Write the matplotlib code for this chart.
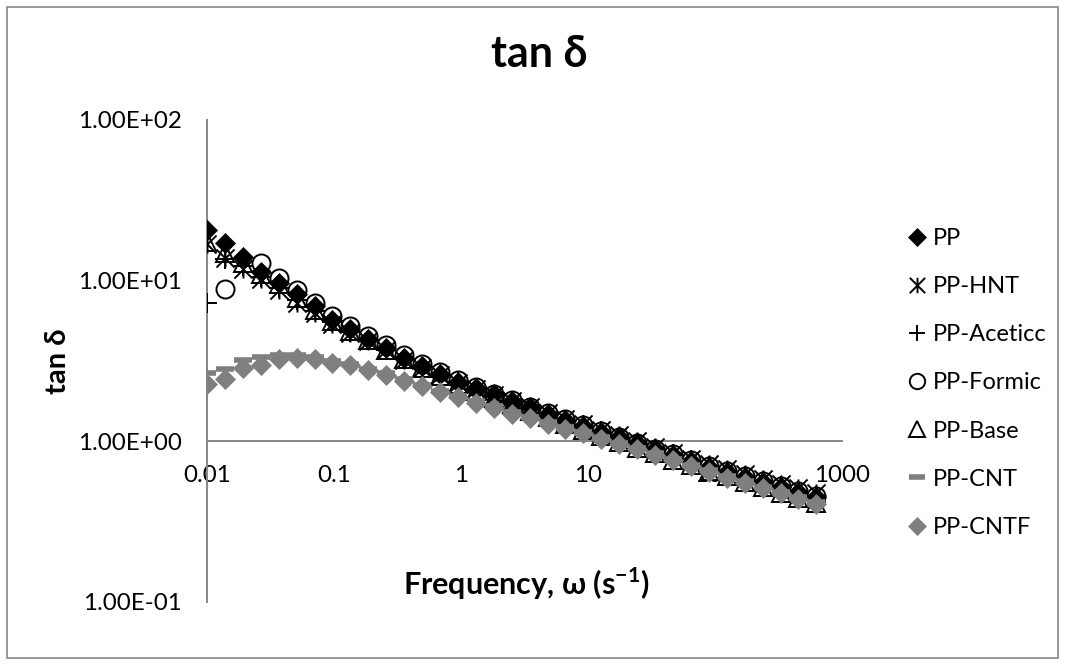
import matplotlib
matplotlib.use("Agg")
import matplotlib.pyplot as plt
from matplotlib.path import Path
from matplotlib.patches import Rectangle
from matplotlib.ticker import FixedLocator, FixedFormatter, NullLocator

plt.rcParams['font.family'] = ['Lato', 'DejaVu Sans']
plt.rcParams['mathtext.fontset'] = 'custom'
plt.rcParams['mathtext.rm'] = 'Lato'
plt.rcParams['mathtext.bf'] = 'Lato:bold'

nan = float('nan')

# ---- data ----
freq = [0.01, 0.01384, 0.01915, 0.02651, 0.03668, 0.05077, 0.07026, 0.09723,
        0.1346, 0.1863, 0.2578, 0.3567, 0.4937, 0.6832, 0.9455, 1.309, 1.811,
        2.506, 3.469, 4.800, 6.643, 9.194, 12.72, 17.61, 24.37, 33.73, 46.68,
        64.60, 89.41, 123.7, 171.3, 237.0, 328.0, 453.9, 628.3]

pp = [20.7, 17.2, 14.1, 11.4, 9.7, 8.3, 7.0, 5.7, 4.98, 4.35, 3.8, 3.3, 2.95,
      2.63, 2.35, 2.15, 1.96, 1.79, 1.63, 1.48, 1.35, 1.25, 1.15, 1.06, 0.97,
      0.89, 0.82, 0.75, 0.69, 0.64, 0.6, 0.56, 0.52, 0.485, 0.45]
pp_hnt = [17.0, 13.9, 11.9, 10.3, 8.7, 7.3, 6.3, 5.4, 4.75, 4.2, 3.7, 3.22,
          2.88, 2.58, 2.32, 2.13, 1.95, 1.79, 1.64, 1.5, 1.38, 1.28, 1.18,
          1.09, 1.0, 0.92, 0.85, 0.78, 0.72, 0.67, 0.63, 0.585, 0.545, 0.51,
          0.475]
pp_acetic = [7.3, 13.6, 12.3, 10.6, 9.0, 7.6, 6.5, 5.5, 4.8, 4.25, 3.72, 3.25,
             2.9, 2.6, 2.33, 2.12, 1.94, 1.77, 1.62, 1.48, 1.36, 1.26, 1.16,
             1.07, 0.98, 0.9, 0.83, 0.76, 0.7, 0.65, 0.61, 0.565, 0.525, 0.49,
             0.455]
pp_formic = [nan, 8.9, nan, 12.9, 10.4, 8.7, 7.3, 6.0, 5.2, 4.55, 3.95, 3.45,
             3.05, 2.7, 2.4, 2.18, 1.98, 1.8, 1.64, 1.5, 1.37, 1.26, 1.16,
             1.07, 0.98, 0.9, 0.83, 0.76, 0.7, 0.65, 0.61, 0.565, 0.525, 0.49,
             0.455]
pp_base = [17.3, 14.9, 12.8, 11.0, 9.6, 7.8, 6.6, 5.6, 4.85, 4.25, 3.72, 3.25,
           2.88, 2.56, 2.28, 2.06, 1.87, 1.7, 1.55, 1.41, 1.29, 1.18, 1.08,
           0.99, 0.91, 0.84, 0.77, 0.71, 0.655, 0.605, 0.56, 0.52, 0.48, 0.445,
           0.415]
pp_cnt = [2.68, 2.84, 3.23, 3.33, 3.47, 3.45, 3.36, 3.18, 3.02, 2.84, 2.65,
          2.44, 2.25, 2.07, 1.92, 1.77, 1.65, 1.52, 1.42, 1.32, 1.23, 1.14,
          1.06, 0.98, 0.91, 0.84, 0.775, 0.715, 0.66, 0.61, 0.565, 0.52,
          0.485, 0.45, 0.42]
pp_cntf = [2.29, 2.46, 2.88, 2.97, 3.25, 3.32, 3.27, 3.08, 2.98, 2.78, 2.6,
           2.38, 2.2, 2.02, 1.88, 1.73, 1.62, 1.49, 1.39, 1.29, 1.2, 1.12, 1.04,
           0.96, 0.89, 0.82, 0.76, 0.7, 0.645, 0.595, 0.55, 0.51, 0.475, 0.44,
           0.41]

labels = ['PP', 'PP-HNT', 'PP-Aceticc', 'PP-Formic', 'PP-Base', 'PP-CNT', 'PP-CNTF']
xticks = [0.01, 0.1, 1, 10, 100, 1000]
xtick_labels = ['0.01', '0.1', '1', '10', '100', '1000']
yticks = [0.1, 1, 10, 100]
ytick_labels = ['1.00E-01', '1.00E+00', '1.00E+01', '1.00E+02']

# ---- figure ----
W, H = 1065, 665
fig = plt.figure(figsize=(W / 100, H / 100), dpi=100)
fig.patches.append(Rectangle((7 / W, 7 / H), 1 - 14 / W, 1 - 14 / H,
                             transform=fig.transFigure, fill=False,
                             edgecolor='#868686', linewidth=1.2))

ax = fig.add_axes([207 / W, (H - 602) / H, (842 - 207) / W, (602 - 120) / H])
ax.set_xscale('log')
ax.set_yscale('log')
ax.set_xlim(0.01, 1000)
ax.set_ylim(0.1, 100)

star = Path([(0, -1), (0, 1), (-1, -1), (1, 1), (-1, 1), (1, -1)],
            [Path.MOVETO, Path.LINETO, Path.MOVETO, Path.LINETO,
             Path.MOVETO, Path.LINETO])

gray = '#7f7f7f'
styles = [
    dict(marker='D', ms=10.5, mfc='black', mec='black', mew=0.5),
    dict(marker=star, ms=13, mfc='none', mec='black', mew=1.4),
    dict(marker='+', ms=14, mfc='none', mec='black', mew=1.4),
    dict(marker='o', ms=13, mfc='none', mec='black', mew=1.4),
    dict(marker='^', ms=13, mfc='none', mec='black', mew=1.4),
    dict(marker='_', ms=13, mfc=gray, mec=gray, mew=4),
    dict(marker='D', ms=10.5, mfc=gray, mec=gray, mew=0.5),
]
series = [pp, pp_hnt, pp_acetic, pp_formic, pp_base, pp_cnt, pp_cntf]
handles = []
for i, (vals, st, lab) in enumerate(zip(series, styles, labels)):
    h, = ax.plot(freq, vals, linestyle='none', label=lab, zorder=3 + i * 0.1, **st)
    handles.append(h)

for s in ['top', 'right']:
    ax.spines[s].set_visible(False)
ax.spines['left'].set_color('#868686')
ax.spines['left'].set_linewidth(1.4)
ax.spines['bottom'].set_position(('data', 1))
ax.spines['bottom'].set_color('#868686')
ax.spines['bottom'].set_linewidth(1.4)

ax.xaxis.set_major_locator(FixedLocator(xticks))
ax.xaxis.set_major_formatter(FixedFormatter(xtick_labels))
ax.xaxis.set_minor_locator(NullLocator())
ax.yaxis.set_major_locator(FixedLocator(yticks))
ax.yaxis.set_major_formatter(FixedFormatter(ytick_labels))
ax.yaxis.set_minor_locator(NullLocator())
ax.tick_params(axis='x', length=0, pad=17, labelsize=17.4, labelcolor='black')
ax.tick_params(axis='y', length=0, pad=18, labelsize=17.4, labelcolor='black')

fig.text(539 / W, (H - 67) / H, 'tan δ', ha='center', va='baseline',
         fontsize=31, fontweight='bold')
fig.text(58 / W, (H - 361) / H, 'tan δ', ha='center', va='center',
         rotation=90, fontsize=21, fontweight='bold')
fig.text(526 / W, (H - 584) / H, r'Frequency, ω (s$^{\mathbf{-1}}$)',
         ha='center', va='center', fontsize=22, fontweight='bold')

fig.legend(handles=handles, labels=labels, loc='upper left',
           bbox_to_anchor=(905 / W, (H - 228) / H), frameon=False,
           fontsize=17, handlelength=1.0, handletextpad=0.2,
           labelspacing=1.15, borderpad=0, borderaxespad=0, markerscale=0.85,
           numpoints=1)

fig.savefig('out.png', dpi=100)
